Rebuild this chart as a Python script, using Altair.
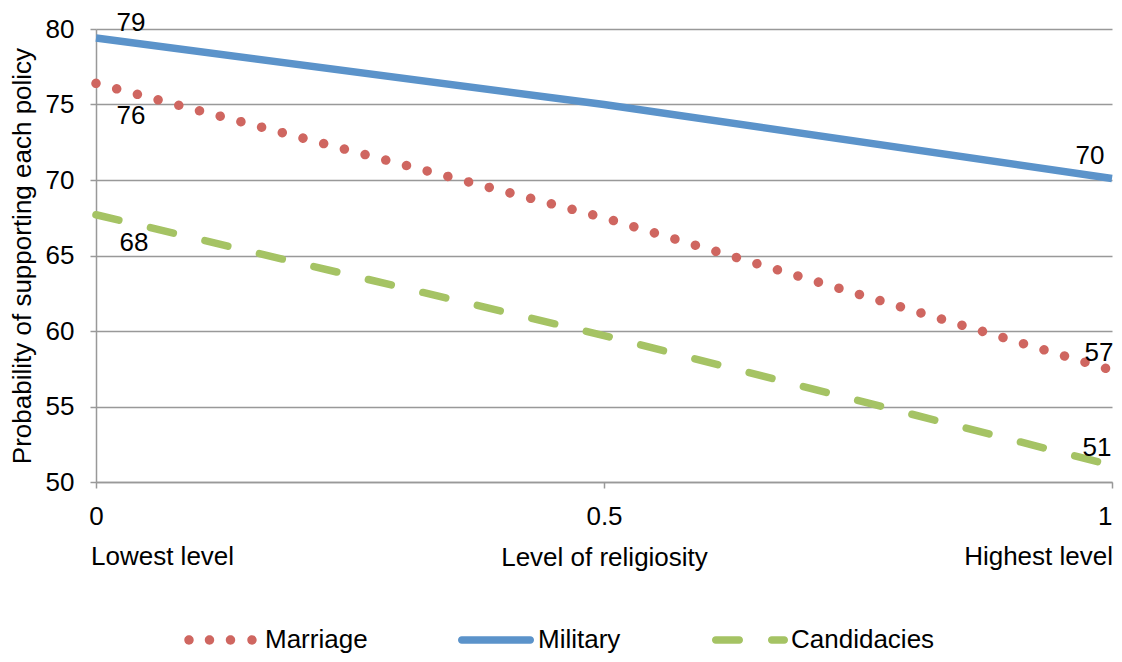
import altair as alt
import pandas as pd

# ---------------- data ----------------
x_levels = [0, 0.5, 1]
series_names = ["Marriage", "Military", "Candidacies"]
marriage = [76.4, 67.5, 57.4]
military = [79.4, 75.0, 70.1]
candidacies = [67.7, 59.7, 51.1]
series_colors = ["#CF6660", "#5B93CA", "#A5C364"]
y_ticks = [50, 55, 60, 65, 70, 75, 80]
x_ticks = [0, 0.5, 1]
end_positions = [0, 1]
end_labels = ["Lowest level", "Highest level"]
x_title = "Level of religiosity"
y_title = "Probability of supporting each policy"

rows = []
for name, vals in zip(series_names, [marriage, military, candidacies]):
    for xv, yv in zip(x_levels, vals):
        rows.append({"series": name, "x": xv, "value": yv})
df = pd.DataFrame(rows)
ann = pd.DataFrame({"x": end_positions, "label": end_labels})

FONT = "Liberation Sans"
GREY = "#999999"

X_ENC = alt.X(
    "x:Q",
    scale=alt.Scale(domain=[0, 1], nice=False, zero=False),
    axis=alt.Axis(
        values=x_ticks, format="~g", grid=False, labelFlush=False, labelOverlap=False,
        labelAlign={"condition": {"test": "datum.value == 1", "value": "right"}, "value": "center"},
        labelFont=FONT, labelFontSize=26, labelColor="black",
        labelBaseline="alphabetic", labelPadding=36,
        tickSize=6, tickColor=GREY, tickWidth=1.5,
        domainColor=GREY, domainWidth=1.5,
        title=x_title, titleFont=FONT, titleFontSize=26, titleFontWeight="normal",
        titleColor="black", titleX=508, titleY=83, titleAlign="center",
        titleBaseline="alphabetic",
    ),
)
Y_ENC = alt.Y(
    "value:Q",
    scale=alt.Scale(domain=[50, 80], nice=False, zero=False),
    axis=alt.Axis(
        values=y_ticks, grid=True, gridColor=GREY, gridWidth=1.5,
        labelFont=FONT, labelFontSize=26, labelColor="black", labelPadding=16,
        tickSize=6, tickColor=GREY, tickWidth=1.5,
        domainColor=GREY, domainWidth=1.5,
        title=y_title, titleFont=FONT, titleFontSize=26, titleFontWeight="normal",
        titleColor="black", titleAngle=270, titleX=-66, titleY=226.5,
        titleAlign="center", titleBaseline="alphabetic",
    ),
)

base = alt.Chart(df).encode(x=X_ENC, y=Y_ENC)

line_styles = {
    "Marriage": dict(strokeWidth=9.5, strokeDash=[0.01, 21.4], strokeCap="round"),
    "Military": dict(strokeWidth=7.5, strokeCap="butt"),
    "Candidacies": dict(strokeWidth=7.5, strokeDash=[23.5, 32.5], strokeCap="round"),
}
lines = []
for name, col in zip(series_names, series_colors):
    lines.append(
        base.transform_filter(alt.datum.series == name).mark_line(color=col, **line_styles[name])
    )

# data labels (series, x, dx, dy)
label_specs = [
    ("Military", 0, 35, -15.5),
    ("Marriage", 0, 35, 33),
    ("Candidacies", 0, 38, 28),
    ("Military", 1, -22, -22.5),
    ("Marriage", 1, -13, -17),
    ("Candidacies", 1, -15, -17),
]
labels = []
for name, xv, dx, dy in label_specs:
    labels.append(
        base.transform_filter((alt.datum.series == name) & (alt.datum.x == xv))
        .mark_text(dx=dx, dy=dy, font=FONT, fontSize=26, color="black")
        .encode(text=alt.Text("value:Q", format=".0f"))
    )

ann_left = (
    alt.Chart(ann).transform_filter(alt.datum.x == end_positions[0])
    .mark_text(align="left", baseline="alphabetic", dx=-5, font=FONT, fontSize=26, color="black")
    .encode(x=X_ENC, y=alt.value(536), text="label:N")
)
ann_right = (
    alt.Chart(ann).transform_filter(alt.datum.x == end_positions[1])
    .mark_text(align="right", baseline="alphabetic", dx=1, font=FONT, fontSize=26, color="black")
    .encode(x=X_ENC, y=alt.value(536), text="label:N")
)

# ---------- legend symbols as custom shapes ----------
S = 39.0  # half width of the legend symbol box (px)


def _f(v):
    return f"{v / S:.4f}"


def capsule(x0, x1, r):
    k = 0.5523 * r
    return (
        f"M{_f(x0)},{_f(-r)} L{_f(x1)},{_f(-r)} "
        f"C{_f(x1 + k)},{_f(-r)} {_f(x1 + r)},{_f(-k)} {_f(x1 + r)},0 "
        f"C{_f(x1 + r)},{_f(k)} {_f(x1 + k)},{_f(r)} {_f(x1)},{_f(r)} "
        f"L{_f(x0)},{_f(r)} "
        f"C{_f(x0 - k)},{_f(r)} {_f(x0 - r)},{_f(k)} {_f(x0 - r)},0 "
        f"C{_f(x0 - r)},{_f(-k)} {_f(x0 - k)},{_f(-r)} {_f(x0)},{_f(-r)} Z"
    )


sym_marriage = " ".join(capsule(c, c, 4.7) for c in [-35, -14.5, 6.5, 28])
sym_military = capsule(-35.25, 33.25, 3.75)
sym_cand = capsule(-34.25, -10.75, 3.75) + " " + capsule(21.75, 34.25, 3.75)

LEG = alt.Legend(
    title=None, orient="none", legendX=89, legendY=572, direction="horizontal",
    columns=3, columnPadding=90, padding=0, symbolSize=(2 * S) ** 2,
    symbolStrokeWidth=0, symbolOpacity=1, labelOffset=2, labelLimit=400,
    labelFont=FONT, labelFontSize=26, labelColor="black",
)
legend_layer = (
    alt.Chart(df).transform_filter("false")
    .mark_point(filled=True, opacity=1)
    .encode(
        x=X_ENC, y=Y_ENC,
        color=alt.Color("series:N", scale=alt.Scale(domain=series_names, range=series_colors), legend=LEG),
        shape=alt.Shape("series:N", scale=alt.Scale(domain=series_names,
                        range=[sym_marriage, sym_military, sym_cand]), legend=LEG),
    )
)

chart = (
    alt.layer(*lines, *labels, ann_left, ann_right, legend_layer)
    .properties(
        width=1016, height=453,
        autosize=alt.AutoSizeParams(type="none"),
        padding={"left": 88, "top": 21, "right": 2, "bottom": 172},
    )
    .configure(font=FONT)
    .configure_view(stroke=None)
)

chart.save("out.html", embed_options={"renderer": "svg", "actions": False})
